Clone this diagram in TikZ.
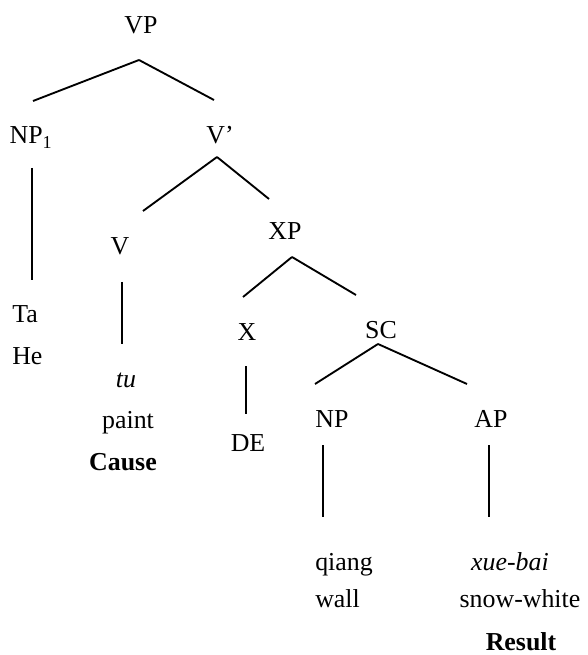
\documentclass[tikz,border=0pt]{standalone}
\usepackage{fontspec}
\setmainfont{Liberation Serif}
\usepackage{tikz}

\begin{document}
\begin{tikzpicture}[x=0.75pt, y=-0.75pt, font=\fontsize{19.4}{23}\selectfont,
  every node/.style={anchor=base, inner sep=0pt},
  gloss/.style={anchor=base west},
  branch/.style={line width=1.4pt}]
\useasboundingbox (0,0) rectangle (587,655);

% Kategorien
\node (VP)   at (141,34)  {VP};
\node (NP1)  at (31,144)  {NP\textsubscript{1}};
\node (Vbar) at (220,144) {V’};
\node (V)    at (120,255) {V};
\node (XP)   at (285,240) {XP};
\node (X)    at (247,340) {X};
\node (SC)   at (381,338) {SC};
\node (NP)   at (332,427) {NP};
\node (AP)   at (491,427) {AP};

% Woerter und Glossen
\node[gloss] (ta)    at (12,322)  {Ta};
\node[gloss] (he)    at (12,364)  {He};
\node (tu)    at (126,387) {\textit{tu}};
\node (paint) at (128,428) {paint};
\node (cause) at (123,470) {\textbf{Cause}};
\node (de)    at (248,451) {DE};
\node[gloss] (qiang) at (315,570) {qiang};
\node[gloss] (wall)  at (315,607) {wall};
\node (xuebai) at (510,570) {\textit{xue-bai}};
\node (snow)   at (520,607) {snow-white};
\node (result) at (521,650) {\textbf{Result}};

% Verzweigungspunkte
\coordinate (vp-fork)   at (139,60);
\coordinate (vbar-fork) at (217,157);
\coordinate (xp-fork)   at (292,257);
\coordinate (sc-fork)   at (378,344);
\coordinate (np1-top)   at (33,101);
\coordinate (vbar-top)  at (214,100);
\coordinate (v-top)     at (143,211);
\coordinate (xp-top)    at (269,199);
\coordinate (x-top)     at (243,297);
\coordinate (sc-top)    at (356,295);
\coordinate (np-top)    at (315,384);
\coordinate (ap-top)    at (467,384);

% Staemme
\coordinate (np1-a) at (32,168);  \coordinate (np1-b) at (32,280);
\coordinate (v-a)   at (122,282); \coordinate (v-b)   at (122,344);
\coordinate (x-a)   at (246,366); \coordinate (x-b)   at (246,414);
\coordinate (np-a)  at (323,445); \coordinate (np-b)  at (323,517);
\coordinate (ap-a)  at (489,445); \coordinate (ap-b)  at (489,517);

% Aeste
\path[branch]
(vp-fork) edge (np1-top) edge (vbar-top)
(vbar-fork) edge (v-top) edge (xp-top)
(xp-fork) edge (x-top) edge (sc-top)
(sc-fork) edge (np-top) edge (ap-top)
(np1-a) edge (np1-b)
(v-a) edge (v-b)
(x-a) edge (x-b)
(np-a) edge (np-b)
(ap-a) edge (ap-b);
\end{tikzpicture}
\end{document}
